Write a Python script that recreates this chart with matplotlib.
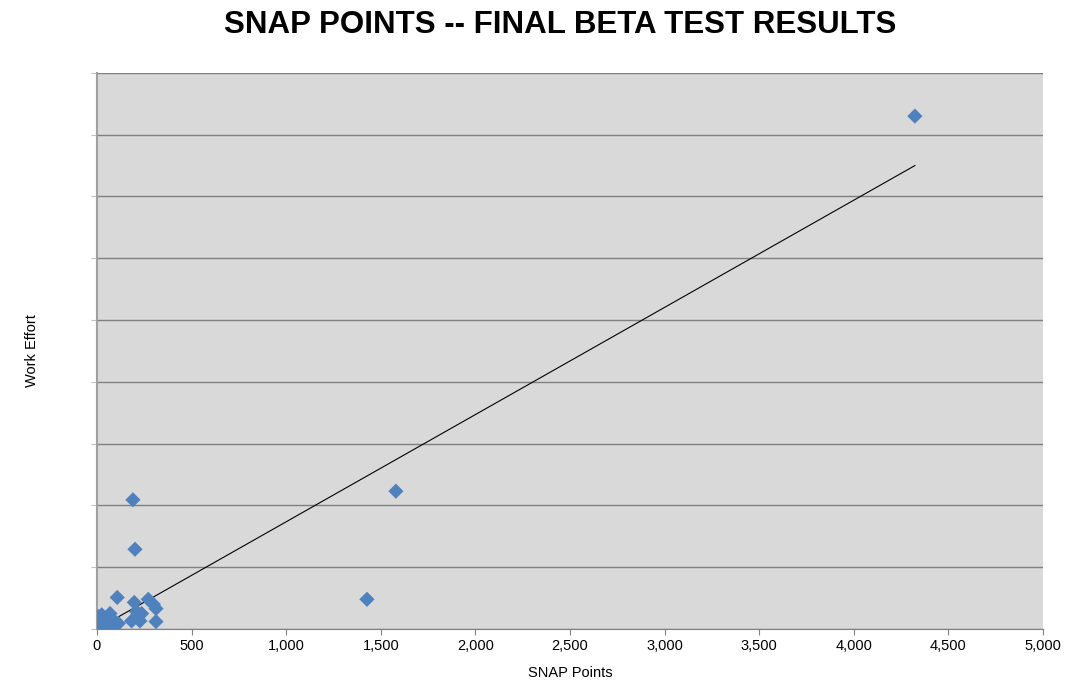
import numpy as np
import matplotlib.pyplot as plt
from matplotlib.ticker import FuncFormatter

# values (y in arbitrary effort units, axis labels hidden)
snap_points = [4323, 1580, 1427, 190, 201, 107, 197, 271, 312, 298, 209, 236,
               183, 227, 312, 113, 86, 25, 69, 33, 16, 42, 4, 60, 7, 95, 50, 20]
work_effort = [830, 223, 48, 209, 129, 51, 43, 48, 33, 40, 28, 25,
               13, 13, 12, 9, 8, 23, 25, 15, 4, 1, 0, 9, 20, 12, 18, 6]

x_ticks = list(range(0, 5001, 500))
y_ticks = list(range(0, 901, 100))

x = np.array(snap_points, dtype=float)
y = np.array(work_effort, dtype=float)
slope = np.sum(x * y) / np.sum(x * x)  # trendline through origin

fig = plt.figure(figsize=(10.74, 6.81), dpi=100)
ax = fig.add_axes([0.0903, 0.0764, 0.8808, 0.8166])
ax.set_facecolor('#d9d9d9')

ax.scatter(x, y, marker='D', s=60, color='#4f81bd', edgecolors='none', zorder=3)
line_x = np.array([0, x.max()])
ax.plot(line_x, slope * line_x, color='black', lw=0.8, zorder=2)

ax.set_xlim(0, 5000)
ax.set_ylim(0, 900)
ax.set_xticks(x_ticks)
ax.set_yticks(y_ticks)
ax.xaxis.set_major_formatter(FuncFormatter(lambda v, p: f'{int(v):,}'))
ax.set_yticklabels([])
ax.grid(axis='y', color='#808080', lw=1)
ax.set_axisbelow(True)
for side in ['top', 'right']:
    ax.spines[side].set_visible(False)
ax.spines['left'].set_color('#a0a0a0')
ax.spines['left'].set_linewidth(1.5)
ax.spines['bottom'].set_color('#808080')
ax.tick_params(axis='x', colors='#808080', labelcolor='black', labelsize=10.5, length=4)
ax.tick_params(axis='y', colors='#c0c0c0', length=4)

ax.set_xlabel('SNAP Points', fontsize=10.5, family='Liberation Sans', labelpad=9)
ax.set_ylabel('Work Effort', fontsize=10.5, family='Liberation Sans', labelpad=34)
for lab in ax.get_xticklabels():
    lab.set_family('Liberation Sans')

fig.suptitle('SNAP POINTS -- FINAL BETA TEST RESULTS', x=0.522, y=0.985,
             fontsize=22.5, fontweight='bold', family='Liberation Sans')

fig.savefig('out.png', dpi=100)
